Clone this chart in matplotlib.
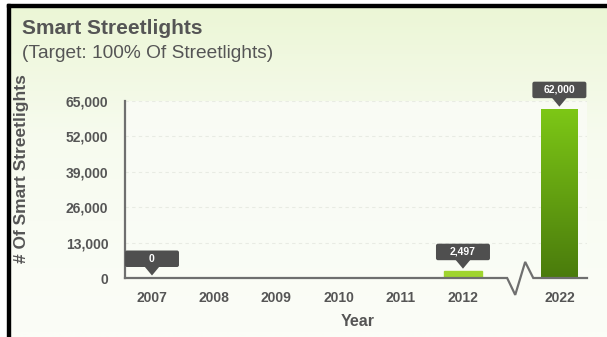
import numpy as np
import matplotlib
matplotlib.use("Agg")
import matplotlib.pyplot as plt
from matplotlib import transforms
from matplotlib.patches import Rectangle, Polygon, FancyBboxPatch
from matplotlib.colors import LinearSegmentedColormap

# ---- data ----
years = ["2007", "2008", "2009", "2010", "2011", "2012", "2022"]
streetlights = [0, None, None, None, None, 2497, 62000]
value_labels = ["0", None, None, None, None, "2,497", "62,000"]
y_ticks = [0, 13000, 26000, 39000, 52000, 65000]
y_tick_labels = ["0", "13,000", "26,000", "39,000", "52,000", "65,000"]

title = "Smart Streetlights"
subtitle = "(Target: 100% Of Streetlights)"
x_label = "Year"
y_label = "# Of Smart Streetlights"

# slot positions; the last year sits past an axis break
positions = [0, 1, 2, 3, 4, 5, 6.55]

plt.rcParams["font.family"] = ["Liberation Sans", "DejaVu Sans"]
TEXT = "#555555"

W, H = 607, 337
fig = plt.figure(figsize=(W / 100, H / 100), dpi=100)

# figure background: pale green fading to near white
bg = fig.add_axes([0, 0, 1, 1], zorder=-10)
bg_cmap = LinearSegmentedColormap.from_list(
    "bg", ["#fbfdf7", "#f7fbef", "#ebf6d4"])
grad = np.linspace(0, 1, 256).reshape(-1, 1) ** 1.3
bg.imshow(grad, cmap=bg_cmap, aspect="auto", extent=[0, 1, 0, 1],
          origin="lower")
bg.set_xlim(0, 1)
bg.set_ylim(0, 1)
bg.axis("off")

# white margin with black frame on left and top
fig.patches.append(Rectangle((0, 0), 7 / W, 1, transform=fig.transFigure,
                             color="white", zorder=5))
fig.patches.append(Rectangle((0, 1 - 4 / H), 1, 4 / H,
                             transform=fig.transFigure, color="white", zorder=5))
fig.patches.append(Rectangle((7 / W, 0), 3 / W, 1 - 4 / H,
                             transform=fig.transFigure, color="black", zorder=6))
fig.patches.append(Rectangle((7 / W, 1 - 7 / H), 1 - 7 / W, 3 / H,
                             transform=fig.transFigure, color="black", zorder=6))

ax_left, ax_right, ax_top, ax_bot = 125, 587, 101, 278
ax = fig.add_axes([ax_left / W, 1 - ax_bot / H,
                   (ax_right - ax_left) / W, (ax_bot - ax_top) / H])
ax.set_facecolor("#fafcf6")
ax.patch.set_alpha(0.9)
ax.set_xlim(-0.434, 6.994)
ax.set_ylim(0, 65000)

for s in ["top", "right", "bottom"]:
    ax.spines[s].set_visible(False)
ax.spines["left"].set_color("#6f6f6f")
ax.spines["left"].set_linewidth(1.6)

# faint dashed gridlines
for t in y_ticks[1:]:
    ax.axhline(t, color="#e8ebe3", lw=0.8, ls=(0, (3, 3)), zorder=0)

ax.set_yticks(y_ticks)
ax.set_yticklabels(y_tick_labels)
ax.tick_params(axis="y", length=0, pad=12, labelsize=10, labelcolor=TEXT)
for lab in ax.get_yticklabels():
    lab.set_fontweight("bold")

ax.set_xticks(positions)
ax.set_xticklabels(years)
ax.tick_params(axis="x", length=0, pad=9, labelsize=10, labelcolor=TEXT)
for lab in ax.get_xticklabels():
    lab.set_fontweight("bold")

# bars with a vertical green gradient
bar_w = 0.58
bar_cmap = LinearSegmentedColormap.from_list("bar", ["#4a7b0c", "#7dc716"])
for x, v in zip(positions, streetlights):
    if not v:
        continue
    if v < 5000:
        ax.add_patch(Rectangle((x - 0.3, 0), 0.6, v, color="#9fd42e", zorder=3))
    else:
        g = np.linspace(0, 1, 256).reshape(-1, 1)
        ax.imshow(g, cmap=bar_cmap, aspect="auto", origin="lower",
                  extent=[x - bar_w / 2, x + bar_w / 2, 0, v], zorder=3)
ax.set_xlim(-0.434, 6.994)
ax.set_ylim(0, 65000)

# x axis line with a break before the last year
y_lo, y_hi = -6200, 5900
axis_x = [-0.434, 5.71, 5.84, 6.0, 6.13, 6.994]
axis_y = [0, 0, y_lo, y_hi, 0, 0]
ax.plot(axis_x, axis_y, color="#6f6f6f", lw=1.6, clip_on=False, zorder=4,
        solid_joinstyle="miter")

# value callouts: dark box with a pointer, sized in inches from the bar top
for x, v, lab in zip(positions, streetlights, value_labels):
    if v is None:
        continue
    tr = fig.dpi_scale_trans + transforms.ScaledTranslation(x, v, ax.transData)
    box = FancyBboxPatch((-0.27, 0.11), 0.54, 0.165,
                         boxstyle="round,pad=0,rounding_size=0.02",
                         transform=tr, facecolor="#4f4f4f", edgecolor="none",
                         clip_on=False, zorder=6)
    ax.add_patch(box)
    tri = Polygon([[-0.075, 0.115], [0.075, 0.115], [0, 0.025]], closed=True,
                  transform=tr, facecolor="#4f4f4f", edgecolor="none",
                  clip_on=False, zorder=6)
    ax.add_patch(tri)
    ax.text(0, 0.195, lab, transform=tr, ha="center", va="center",
            color="white", fontsize=7.5, fontweight="bold", zorder=7,
            clip_on=False)

# titles and axis labels
fig.text(22 / W, 1 - 29 / H, title, fontsize=15, fontweight="bold",
         color=TEXT, ha="left", va="center")
fig.text(22 / W, 1 - 54 / H, subtitle, fontsize=13.8, color=TEXT,
         ha="left", va="center")
fig.text(22 / W, 1 - 169 / H, y_label, fontsize=12.5, fontweight="bold",
         color=TEXT, rotation=90, ha="center", va="center")
fig.text(358 / W, 1 - 322 / H, x_label, fontsize=11.5, fontweight="bold",
         color=TEXT, ha="center", va="center")

fig.savefig("out.png", dpi=100)
